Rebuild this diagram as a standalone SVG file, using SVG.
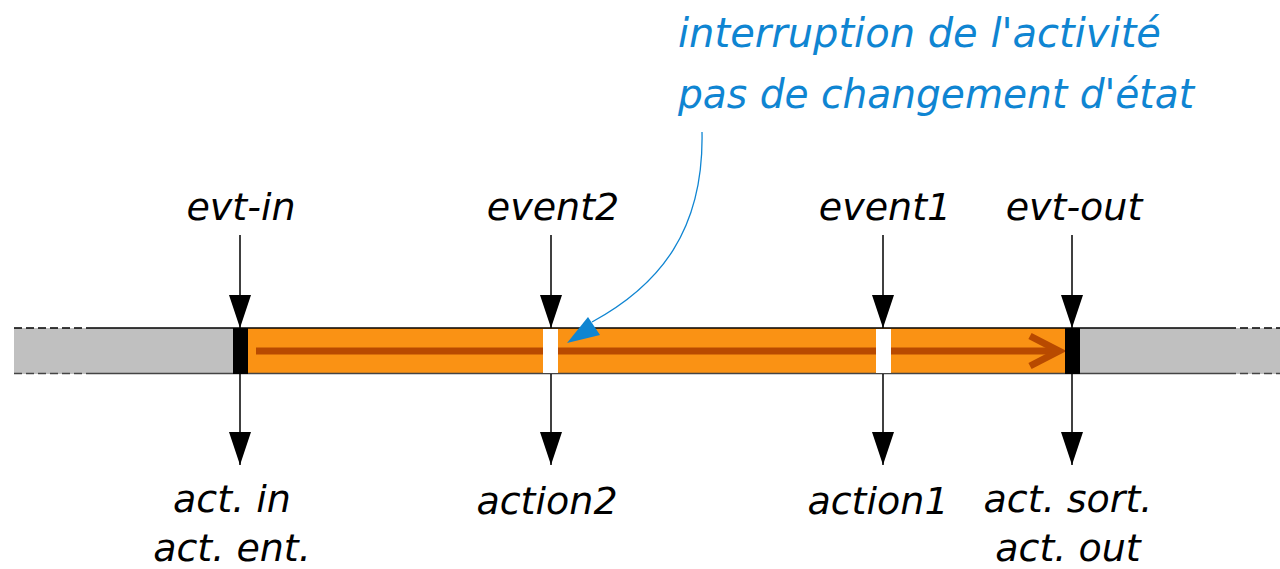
<svg xmlns="http://www.w3.org/2000/svg" width="1280" height="569" viewBox="0 0 1280 569">
<style>
.lbl{font-family:"DejaVu Sans",sans-serif;font-style:italic;font-size:38px;fill:#000;text-anchor:middle}
.blue{font-family:"DejaVu Sans",sans-serif;font-style:italic;font-size:40px;fill:#0f85d2}
.ev{stroke:#000;stroke-width:1.5;fill:none}
</style>
<defs>
<marker id="ah" markerUnits="userSpaceOnUse" markerWidth="34" markerHeight="22" refX="33" refY="11" orient="auto" viewBox="0 0 34 22">
<path d="M0,0 L33,11 L0,22 Z" fill="#000"/>
</marker>
</defs>
<g id="band">
<rect x="14" y="328" width="219" height="46" fill="#c0c0c0"/>
<rect x="1080" y="328" width="200" height="46" fill="#c0c0c0"/>
<rect x="248" y="328" width="817" height="46" fill="#fa9214"/>
<line x1="88" y1="328" x2="1228" y2="328" stroke="#000" stroke-width="1.5"/>
<line x1="88" y1="373.5" x2="1228" y2="373.5" stroke="#444" stroke-width="1.5"/>
<line x1="14" y1="328" x2="88" y2="328" stroke="#000" stroke-width="1.5" stroke-dasharray="8,4"/>
<line x1="14" y1="373.5" x2="88" y2="373.5" stroke="#444" stroke-width="1.5" stroke-dasharray="8,4"/>
<line x1="1228" y1="328" x2="1280" y2="328" stroke="#000" stroke-width="1.5" stroke-dasharray="8,4"/>
<line x1="1228" y1="373.5" x2="1280" y2="373.5" stroke="#444" stroke-width="1.5" stroke-dasharray="8,4"/>
<line x1="256" y1="351" x2="1058" y2="351" stroke="#b84a00" stroke-width="7"/>
<polyline points="1030,336 1059,351 1030,366" fill="none" stroke="#b84a00" stroke-width="7"/>
<rect x="233" y="328" width="15" height="46" fill="#000"/>
<rect x="1065" y="328" width="15" height="46" fill="#000"/>
<rect x="543" y="329" width="15" height="44" fill="#fff"/>
<rect x="876" y="329" width="15" height="44" fill="#fff"/>
</g>
<g id="connectors">
<line class="ev" x1="240" y1="235" x2="240" y2="328" marker-end="url(#ah)"/>
<line class="ev" x1="551" y1="235" x2="551" y2="328" marker-end="url(#ah)"/>
<line class="ev" x1="883" y1="235" x2="883" y2="328" marker-end="url(#ah)"/>
<line class="ev" x1="1072" y1="235" x2="1072" y2="328" marker-end="url(#ah)"/>
<line class="ev" x1="240" y1="374" x2="240" y2="465" marker-end="url(#ah)"/>
<line class="ev" x1="551" y1="374" x2="551" y2="465" marker-end="url(#ah)"/>
<line class="ev" x1="883" y1="374" x2="883" y2="465" marker-end="url(#ah)"/>
<line class="ev" x1="1072" y1="374" x2="1072" y2="465" marker-end="url(#ah)"/>
<path d="M702,132 C704,230 660,285 592,322" fill="none" stroke="#0f85d2" stroke-width="1.3"/>
<path d="M567,343 L588,317 L600,335 Z" fill="#0f85d2"/>
</g>
<g id="evt-in"><text class="lbl" x="241" y="220">evt-in</text></g>
<g id="event2"><text class="lbl" x="553" y="220">event2</text></g>
<g id="event1"><text class="lbl" x="885" y="220">event1</text></g>
<g id="evt-out"><text class="lbl" x="1074" y="220">evt-out</text></g>
<g id="act-in"><text class="lbl" x="232" y="512">act. in</text><text class="lbl" x="232" y="561">act. ent.</text></g>
<g id="action2"><text class="lbl" x="547" y="514">action2</text></g>
<g id="action1"><text class="lbl" x="878" y="514">action1</text></g>
<g id="act-out"><text class="lbl" x="1068" y="512">act. sort.</text><text class="lbl" x="1068" y="561">act. out</text></g>
<g id="note"><text class="blue" x="678" y="47">interruption de l'activité</text><text class="blue" x="678" y="108" textLength="516" lengthAdjust="spacingAndGlyphs">pas de changement d'état</text></g>
</svg>
